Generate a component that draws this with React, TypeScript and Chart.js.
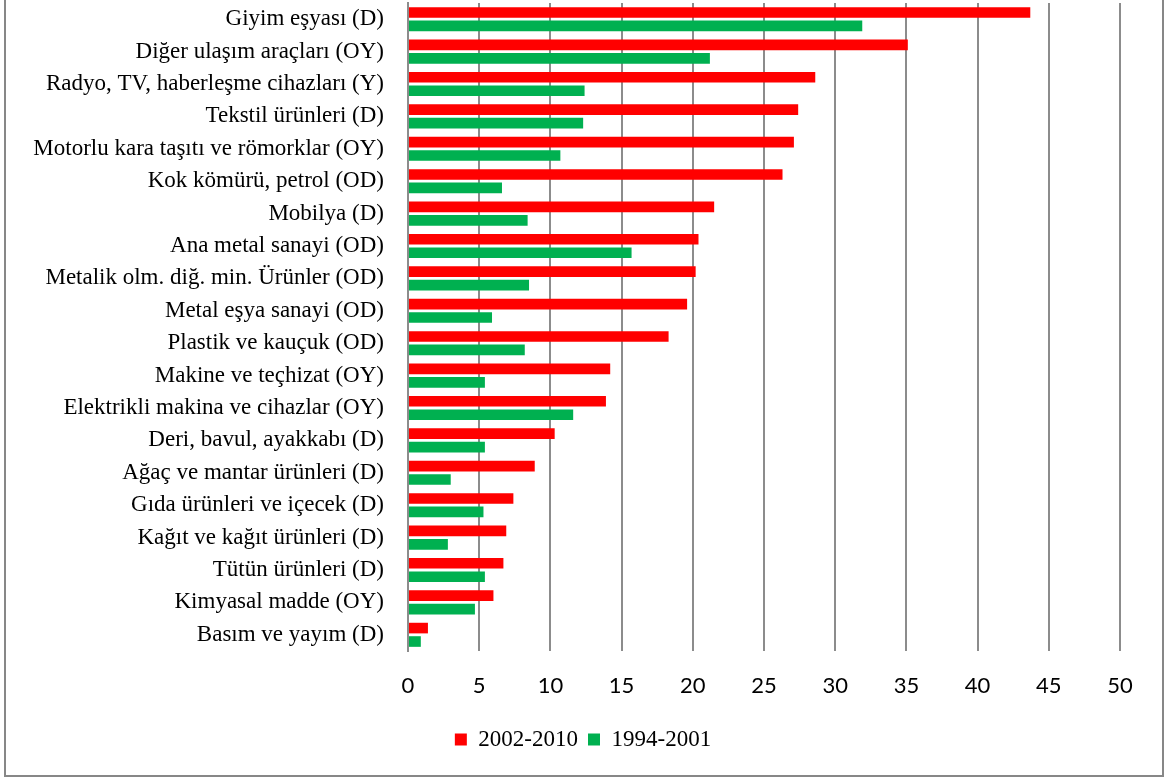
import React, { useEffect, useRef } from "react";
import { Chart, registerables } from "chart.js";

Chart.register(...registerables);

// Sectors, top to bottom
const categories: string[] = [
  "Giyim eşyası (D)",
  "Diğer ulaşım araçları (OY)",
  "Radyo, TV, haberleşme cihazları (Y)",
  "Tekstil ürünleri (D)",
  "Motorlu kara taşıtı ve römorklar (OY)",
  "Kok kömürü, petrol (OD)",
  "Mobilya (D)",
  "Ana metal sanayi (OD)",
  "Metalik olm. diğ. min. Ürünler (OD)",
  "Metal eşya sanayi (OD)",
  "Plastik ve kauçuk (OD)",
  "Makine ve teçhizat (OY)",
  "Elektrikli makina ve cihazlar (OY)",
  "Deri, bavul, ayakkabı (D)",
  "Ağaç ve mantar ürünleri (D)",
  "Gıda ürünleri ve içecek (D)",
  "Kağıt ve kağıt ürünleri (D)",
  "Tütün ürünleri (D)",
  "Kimyasal madde (OY)",
  "Basım ve yayım (D)",
];

const period2002_2010: number[] = [
  43.7, 35.1, 28.6, 27.4, 27.1, 26.3, 21.5, 20.4, 20.2, 19.6,
  18.3, 14.2, 13.9, 10.3, 8.9, 7.4, 6.9, 6.7, 6.0, 1.4,
];

const period1994_2001: number[] = [
  31.9, 21.2, 12.4, 12.3, 10.7, 6.6, 8.4, 15.7, 8.5, 5.9,
  8.2, 5.4, 11.6, 5.4, 3.0, 5.3, 2.8, 5.4, 4.7, 0.9,
];

const seriesNames: string[] = ["2002-2010", "1994-2001"];
const seriesColors: string[] = ["#FF0000", "#00B050"];

const xMin = 0;
const xMax = 50;
const xStep = 5;

const gridGray = "#8c8c8c";

// Nudges the bottom legend to the right so it sits under the plot rather than the whole canvas
const legendShift = {
  id: "legendShift",
  afterLayout(chart: any) {
    const lg = chart.legend;
    if (lg) {
      lg.left += 23;
      lg.right += 23;
    }
  },
};

export default function App() {
  const canvasRef = useRef<HTMLCanvasElement | null>(null);

  useEffect(() => {
    const canvas = canvasRef.current;
    if (!canvas) return;
    const chart = new Chart(canvas, {
      type: "bar",
      data: {
        labels: categories,
        datasets: [
          {
            label: seriesNames[0],
            data: period2002_2010,
            backgroundColor: seriesColors[0],
            categoryPercentage: 0.83,
            barPercentage: 0.79,
          },
          {
            label: seriesNames[1],
            data: period1994_2001,
            backgroundColor: seriesColors[1],
            categoryPercentage: 0.83,
            barPercentage: 0.79,
          },
        ],
      },
      plugins: [legendShift],
      options: {
        indexAxis: "y",
        responsive: false,
        animation: false,
        events: [],
        layout: {
          padding: { top: 3, right: 48, bottom: 16, left: 0 },
        },
        plugins: {
          tooltip: { enabled: false },
          legend: {
            position: "bottom",
            labels: {
              color: "#000",
              font: { family: "'Liberation Serif', 'Times New Roman', serif", size: 23 },
              boxWidth: 12,
              boxHeight: 12,
              padding: 10,
            },
          },
        },
        scales: {
          x: {
            type: "linear",
            min: xMin,
            max: xMax,
            ticks: {
              stepSize: xStep,
              color: "#000",
              padding: 22,
              font: { family: "Lato, 'Open Sans', sans-serif", size: 22 },
            },
            grid: {
              color: gridGray,
              lineWidth: 2,
              drawTicks: false,
            },
            border: { display: false },
            afterFit: (scale: any) => {
              scale.height = 67;
            },
          },
          y: {
            ticks: {
              color: "#000",
              padding: 24,
              autoSkip: false,
              font: { family: "'Liberation Serif', 'Times New Roman', serif", size: 23 },
            },
            grid: { display: false, drawTicks: false },
            border: { display: true, color: gridGray, width: 2 },
            afterFit: (scale: any) => {
              scale.width = 408;
              scale.paddingTop = 0;
              scale.paddingBottom = 0;
            },
          },
        },
      },
    });
    return () => chart.destroy();
  }, []);

  return (
    <div style={{ position: "absolute", left: 0, top: 0, width: 1168, height: 777, background: "#fff" }}>
      <canvas ref={canvasRef} width={1168} height={777} style={{ position: "absolute", left: 0, top: 0 }} />
      <div
        style={{
          position: "absolute",
          left: 4,
          top: -2,
          width: 1160,
          height: 779,
          boxSizing: "border-box",
          border: "2px solid #878787",
          pointerEvents: "none",
        }}
      />
    </div>
  );
}
